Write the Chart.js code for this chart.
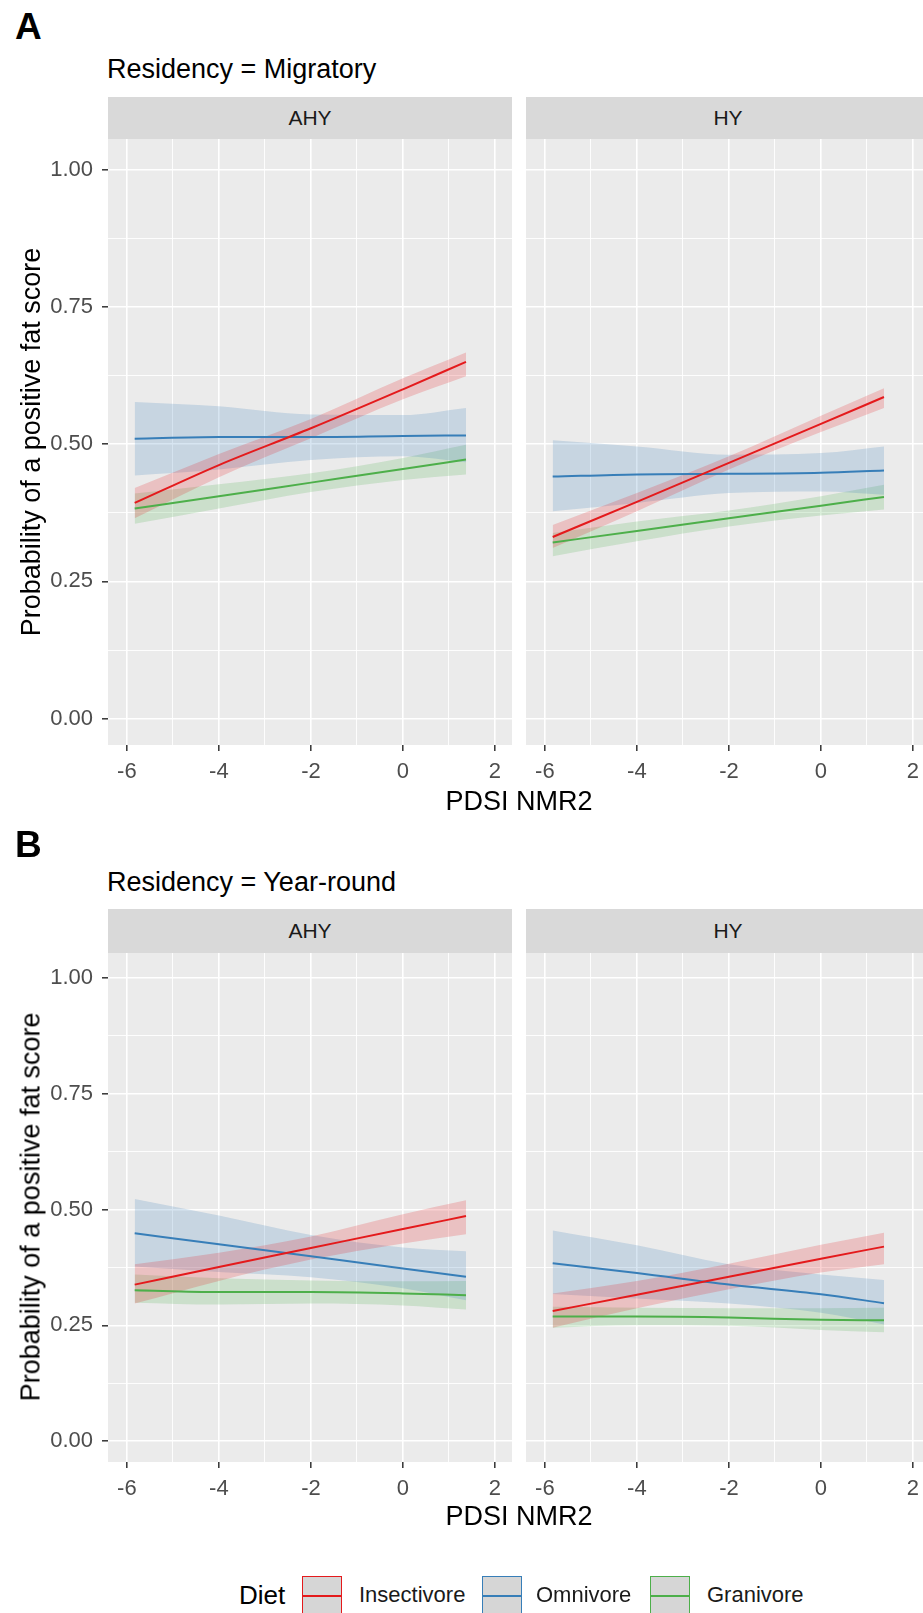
<!DOCTYPE html>
<html>
<head>
<meta charset="utf-8">
<script src="https://cdn.jsdelivr.net/npm/chart.js@4.4.1/dist/chart.umd.min.js"></script>
<style>
html, body { margin:0; padding:0; width:923px; height:1613px; overflow:hidden; background:#fff; font-family:"Liberation Sans", Arial, sans-serif; }
.abs { position:absolute; white-space:nowrap; line-height:1; }
.tag { font-size:37px; font-weight:bold; color:#000; }
.title { font-size:27px; color:#000; }
.strip { position:absolute; background:#D9D9D9; color:#1A1A1A; font-size:21px; display:flex; align-items:center; justify-content:center; }
.ytitle { font-size:27px; transform:translate(-50%,-50%) rotate(-90deg); }
.xtitle { font-size:27px; transform:translate(-50%,-50%); }
.key { position:absolute; width:40px; height:40px; background:#D6D6D6; border:1.5px solid; box-sizing:border-box; }
.key i { position:absolute; left:0; right:0; top:50%; height:2px; margin-top:-1px; }
.leg { font-size:22px; color:#1A1A1A; transform:translateY(-50%); }
canvas { position:absolute; }
</style>
</head>
<body>

<div class="abs tag" style="left:15px; top:8px;">A</div>
<div class="abs title" style="left:107px; top:56px;">Residency = Migratory</div>
<div class="strip" style="left:108px; top:97px; width:404px; height:42px;">AHY</div>
<div class="strip" style="left:526px; top:97px; width:404px; height:42px;">HY</div>
<canvas id="migAHY" width="512" height="660" style="left:0; top:139px;"></canvas>
<canvas id="migHY" width="404" height="660" style="left:526px; top:139px;"></canvas>
<div class="abs ytitle" style="left:31px; top:442px;">Probability of a positive fat score</div>
<div class="abs xtitle" style="left:519px; top:801px;">PDSI NMR2</div>

<div class="abs tag" style="left:15px; top:826px;">B</div>
<div class="abs title" style="left:107px; top:869px;">Residency = Year-round</div>
<div class="strip" style="left:108px; top:909px; width:404px; height:44px;">AHY</div>
<div class="strip" style="left:526px; top:909px; width:404px; height:44px;">HY</div>
<canvas id="yrAHY" width="512" height="563" style="left:0; top:953px;"></canvas>
<canvas id="yrHY" width="404" height="563" style="left:526px; top:953px;"></canvas>
<div class="abs ytitle" style="left:31px; top:1207px;">Probability of a positive fat score</div>
<div class="abs xtitle" style="left:519px; top:1516px;">PDSI NMR2</div>

<div class="abs leg" style="left:239px; top:1595px; font-size:26px; color:#000;">Diet</div>
<div class="key" style="left:302px; top:1576px; border-color:#E41A1C;"><i style="background:#E41A1C"></i></div>
<div class="abs leg" style="left:359px; top:1595px;">Insectivore</div>
<div class="key" style="left:482px; top:1576px; border-color:#377EB8;"><i style="background:#377EB8"></i></div>
<div class="abs leg" style="left:536px; top:1595px;">Omnivore</div>
<div class="key" style="left:650px; top:1576px; border-color:#4DAF4A;"><i style="background:#4DAF4A"></i></div>
<div class="abs leg" style="left:707px; top:1595px;">Granivore</div>

<script>
// valores de PDSI onde as previsões foram lidas
const pdsi = [-5.83, -4, -2, 0, 1.37];

const xTicks = [-6, -5, -4, -3, -2, -1, 0, 1, 2];
const yTicks = [0, 0.125, 0.25, 0.375, 0.5, 0.625, 0.75, 0.875, 1];
const diets = ['Insectivore', 'Omnivore', 'Granivore'];

// Residency = Migratory, AHY
const migAHY_ins    = [0.393, 0.462, 0.529, 0.600, 0.650];
const migAHY_ins_lo = [0.365, 0.440, 0.511, 0.582, 0.624];
const migAHY_ins_hi = [0.420, 0.482, 0.546, 0.620, 0.667];
const migAHY_omn    = [0.510, 0.513, 0.513, 0.515, 0.516];
const migAHY_omn_lo = [0.443, 0.454, 0.471, 0.478, 0.467];
const migAHY_omn_hi = [0.577, 0.569, 0.554, 0.553, 0.566];
const migAHY_gra    = [0.383, 0.405, 0.430, 0.455, 0.472];
const migAHY_gra_lo = [0.355, 0.383, 0.413, 0.435, 0.445];
const migAHY_gra_hi = [0.410, 0.427, 0.447, 0.475, 0.499];

// Residency = Migratory, HY
const migHY_ins    = [0.331, 0.395, 0.466, 0.537, 0.586];
const migHY_ins_lo = [0.311, 0.378, 0.454, 0.522, 0.566];
const migHY_ins_hi = [0.353, 0.411, 0.478, 0.552, 0.602];
const migHY_omn    = [0.441, 0.445, 0.446, 0.448, 0.452];
const migHY_omn_lo = [0.378, 0.393, 0.411, 0.414, 0.408];
const migHY_omn_hi = [0.507, 0.496, 0.481, 0.484, 0.496];
const migHY_gra    = [0.321, 0.342, 0.365, 0.388, 0.404];
const migHY_gra_lo = [0.296, 0.323, 0.350, 0.370, 0.381];
const migHY_gra_hi = [0.338, 0.359, 0.379, 0.405, 0.426];

// Residency = Year-round, AHY
const yrAHY_ins    = [0.338, 0.376, 0.417, 0.458, 0.486];
const yrAHY_ins_lo = [0.297, 0.346, 0.392, 0.427, 0.447];
const yrAHY_ins_hi = [0.382, 0.407, 0.442, 0.490, 0.520];
const yrAHY_omn    = [0.449, 0.425, 0.399, 0.373, 0.355];
const yrAHY_omn_lo = [0.377, 0.365, 0.354, 0.330, 0.304];
const yrAHY_omn_hi = [0.523, 0.487, 0.445, 0.418, 0.410];
const yrAHY_gra    = [0.326, 0.322, 0.322, 0.319, 0.315];
const yrAHY_gra_lo = [0.299, 0.295, 0.297, 0.293, 0.284];
const yrAHY_gra_hi = [0.360, 0.352, 0.347, 0.345, 0.346];

// Residency = Year-round, HY
const yrHY_ins    = [0.281, 0.316, 0.355, 0.394, 0.420];
const yrHY_ins_lo = [0.245, 0.287, 0.328, 0.364, 0.382];
const yrHY_ins_hi = [0.319, 0.346, 0.383, 0.424, 0.450];
const yrHY_omn    = [0.384, 0.363, 0.338, 0.317, 0.298];
const yrHY_omn_lo = [0.318, 0.308, 0.297, 0.277, 0.252];
const yrHY_omn_hi = [0.455, 0.423, 0.382, 0.360, 0.348];
const yrHY_gra    = [0.269, 0.269, 0.267, 0.262, 0.261];
const yrHY_gra_lo = [0.245, 0.250, 0.249, 0.240, 0.235];
const yrHY_gra_hi = [0.290, 0.288, 0.287, 0.287, 0.288];

const cores = ['#E41A1C', '#377EB8', '#4DAF4A'];
const coresFaixa = ['rgba(228,26,28,0.2)', 'rgba(55,126,184,0.2)', 'rgba(77,175,74,0.2)'];

// fundo cinza do painel (estilo ggplot)
const fundoPainel = {
    id: 'fundoPainel',
    beforeDraw(chart) {
        const a = chart.chartArea;
        const ctx = chart.ctx;
        ctx.save();
        ctx.fillStyle = '#EBEBEB';
        ctx.fillRect(a.left, a.top, a.right - a.left, a.bottom - a.top);
        ctx.restore();
    }
};

function pontos(ys) {
    return pdsi.map((x, i) => ({ x: x, y: ys[i] }));
}

function montarPainel(id, series, mostrarY, yMin, yMax) {
    const linhas = [];
    const faixas = [];
    series.forEach((s, i) => {
        linhas.push({
            label: diets[i], data: pontos(s[0]), borderColor: cores[i],
            borderWidth: 2, pointRadius: 0, fill: false, cubicInterpolationMode: 'monotone'
        });
    });
    series.forEach((s, i) => {
        faixas.push({
            label: diets[i] + ' hi', data: pontos(s[2]), borderWidth: 0, pointRadius: 0,
            backgroundColor: coresFaixa[i], fill: '+1', cubicInterpolationMode: 'monotone'
        });
        faixas.push({
            label: diets[i] + ' lo', data: pontos(s[1]), borderWidth: 0, pointRadius: 0,
            fill: false, cubicInterpolationMode: 'monotone'
        });
    });

    new Chart(document.getElementById(id), {
        type: 'line',
        data: { datasets: linhas.concat(faixas) },
        options: {
            responsive: false,
            animation: false,
            layout: { padding: 0 },
            plugins: {
                legend: { display: false },
                tooltip: { enabled: false },
                filler: { drawTime: 'beforeDatasetsDraw' }
            },
            scales: {
                x: {
                    type: 'linear', min: -6.41, max: 2.37,
                    afterBuildTicks: s => { s.ticks = xTicks.map(v => ({ value: v })); },
                    afterFit: s => { s.height = 54; s.paddingLeft = 0; s.paddingRight = 0; },
                    border: { display: false },
                    grid: {
                        color: '#FFFFFF',
                        lineWidth: c => (c.tick && c.tick.value % 2 === 0) ? 1.6 : 0.9,
                        tickColor: c => (c.tick && c.tick.value % 2 === 0) ? '#333333' : 'rgba(0,0,0,0)',
                        tickLength: 6, tickWidth: 1.5
                    },
                    ticks: {
                        autoSkip: false, maxRotation: 0, padding: 8, color: '#4D4D4D',
                        font: { family: 'Liberation Sans', size: 22 },
                        callback: v => (v % 2 === 0 ? String(v) : '')
                    }
                },
                y: {
                    min: yMin, max: yMax,
                    afterBuildTicks: s => { s.ticks = yTicks.map(v => ({ value: v })); },
                    afterFit: s => { s.width = mostrarY ? 108 : 0; s.paddingTop = 0; s.paddingBottom = 0; },
                    border: { display: false },
                    grid: {
                        color: '#FFFFFF',
                        lineWidth: c => (c.tick && Math.round(c.tick.value * 8) % 2 === 0) ? 1.6 : 0.9,
                        tickColor: c => (c.tick && Math.round(c.tick.value * 8) % 2 === 0) ? '#333333' : 'rgba(0,0,0,0)',
                        drawTicks: mostrarY, tickLength: 6, tickWidth: 1.5
                    },
                    ticks: {
                        display: mostrarY, autoSkip: false, padding: 9, color: '#4D4D4D',
                        font: { family: 'Liberation Sans', size: 22 },
                        callback: v => (Math.round(v * 8) % 2 === 0 ? v.toFixed(2) : '')
                    }
                }
            }
        },
        plugins: [fundoPainel]
    });
}

montarPainel('migAHY', [
    [migAHY_ins, migAHY_ins_lo, migAHY_ins_hi],
    [migAHY_omn, migAHY_omn_lo, migAHY_omn_hi],
    [migAHY_gra, migAHY_gra_lo, migAHY_gra_hi]
], true, -0.048, 1.056);
montarPainel('migHY', [
    [migHY_ins, migHY_ins_lo, migHY_ins_hi],
    [migHY_omn, migHY_omn_lo, migHY_omn_hi],
    [migHY_gra, migHY_gra_lo, migHY_gra_hi]
], false, -0.048, 1.056);
montarPainel('yrAHY', [
    [yrAHY_ins, yrAHY_ins_lo, yrAHY_ins_hi],
    [yrAHY_omn, yrAHY_omn_lo, yrAHY_omn_hi],
    [yrAHY_gra, yrAHY_gra_lo, yrAHY_gra_hi]
], true, -0.045, 1.054);
montarPainel('yrHY', [
    [yrHY_ins, yrHY_ins_lo, yrHY_ins_hi],
    [yrHY_omn, yrHY_omn_lo, yrHY_omn_hi],
    [yrHY_gra, yrHY_gra_lo, yrHY_gra_hi]
], false, -0.045, 1.054);
</script>
</body>
</html>
